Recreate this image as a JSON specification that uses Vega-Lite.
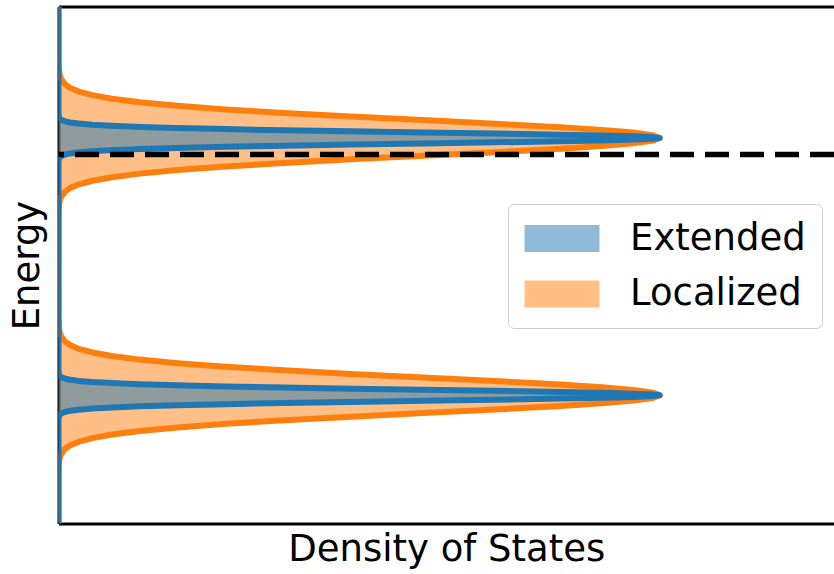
{
  "$schema": "https://vega.github.io/schema/vega-lite/v6.json",
  "autosize": "none",
  "width": 775.5,
  "height": 517,
  "padding": {"left": 58.5, "top": 6.5, "right": 0, "bottom": 50.5},
  "background": "white",
  "config": {
    "font": "DejaVu Sans",
    "view": {"stroke": null},
    "axis": {"grid": false, "ticks": false, "labels": false, "domainColor": "black", "domainWidth": 3, "titleFont": "DejaVu Sans", "titleFontSize": 37, "titleFontWeight": "normal", "titleColor": "black", "zindex": 1}
  },
  "datasets": {
    "dos": [
      {"series": "Localized", "E": -2, "dos": 0},
      {"series": "Localized", "E": -1.629, "dos": 0},
      {"series": "Localized", "E": -1.56, "dos": 0.0003},
      {"series": "Localized", "E": -1.5048, "dos": 0.0015},
      {"series": "Localized", "E": -1.4634, "dos": 0.0043},
      {"series": "Localized", "E": -1.422, "dos": 0.0111},
      {"series": "Localized", "E": -1.3944, "dos": 0.0198},
      {"series": "Localized", "E": -1.3668, "dos": 0.034},
      {"series": "Localized", "E": -1.3392, "dos": 0.0561},
      {"series": "Localized", "E": -1.3116, "dos": 0.0889},
      {"series": "Localized", "E": -1.284, "dos": 0.1353},
      {"series": "Localized", "E": -1.2564, "dos": 0.1979},
      {"series": "Localized", "E": -1.2288, "dos": 0.278},
      {"series": "Localized", "E": -1.2012, "dos": 0.3753},
      {"series": "Localized", "E": -1.1736, "dos": 0.4868},
      {"series": "Localized", "E": -1.146, "dos": 0.6065},
      {"series": "Localized", "E": -1.1184, "dos": 0.7261},
      {"series": "Localized", "E": -1.0908, "dos": 0.8353},
      {"series": "Localized", "E": -1.0701, "dos": 0.9037},
      {"series": "Localized", "E": -1.0494, "dos": 0.956},
      {"series": "Localized", "E": -1.0287, "dos": 0.9888},
      {"series": "Localized", "E": -1.008, "dos": 1},
      {"series": "Localized", "E": -0.9873, "dos": 0.9888},
      {"series": "Localized", "E": -0.9666, "dos": 0.956},
      {"series": "Localized", "E": -0.9459, "dos": 0.9037},
      {"series": "Localized", "E": -0.9252, "dos": 0.8353},
      {"series": "Localized", "E": -0.8976, "dos": 0.7261},
      {"series": "Localized", "E": -0.87, "dos": 0.6065},
      {"series": "Localized", "E": -0.8424, "dos": 0.4868},
      {"series": "Localized", "E": -0.8148, "dos": 0.3753},
      {"series": "Localized", "E": -0.7872, "dos": 0.278},
      {"series": "Localized", "E": -0.7596, "dos": 0.1979},
      {"series": "Localized", "E": -0.732, "dos": 0.1353},
      {"series": "Localized", "E": -0.7044, "dos": 0.0889},
      {"series": "Localized", "E": -0.6768, "dos": 0.0561},
      {"series": "Localized", "E": -0.6492, "dos": 0.034},
      {"series": "Localized", "E": -0.6216, "dos": 0.0198},
      {"series": "Localized", "E": -0.594, "dos": 0.0111},
      {"series": "Localized", "E": -0.5526, "dos": 0.0043},
      {"series": "Localized", "E": -0.5112, "dos": 0.0015},
      {"series": "Localized", "E": -0.456, "dos": 0.0003},
      {"series": "Localized", "E": -0.387, "dos": 0},
      {"series": "Localized", "E": 0.362, "dos": 0},
      {"series": "Localized", "E": 0.431, "dos": 0.0003},
      {"series": "Localized", "E": 0.4862, "dos": 0.0015},
      {"series": "Localized", "E": 0.5276, "dos": 0.0043},
      {"series": "Localized", "E": 0.569, "dos": 0.0111},
      {"series": "Localized", "E": 0.5966, "dos": 0.0198},
      {"series": "Localized", "E": 0.6242, "dos": 0.034},
      {"series": "Localized", "E": 0.6518, "dos": 0.0561},
      {"series": "Localized", "E": 0.6794, "dos": 0.0889},
      {"series": "Localized", "E": 0.707, "dos": 0.1353},
      {"series": "Localized", "E": 0.7346, "dos": 0.1979},
      {"series": "Localized", "E": 0.7622, "dos": 0.278},
      {"series": "Localized", "E": 0.7898, "dos": 0.3753},
      {"series": "Localized", "E": 0.8174, "dos": 0.4868},
      {"series": "Localized", "E": 0.845, "dos": 0.6065},
      {"series": "Localized", "E": 0.8726, "dos": 0.7261},
      {"series": "Localized", "E": 0.9002, "dos": 0.8353},
      {"series": "Localized", "E": 0.9209, "dos": 0.9037},
      {"series": "Localized", "E": 0.9416, "dos": 0.956},
      {"series": "Localized", "E": 0.9623, "dos": 0.9888},
      {"series": "Localized", "E": 0.983, "dos": 1},
      {"series": "Localized", "E": 1.0037, "dos": 0.9888},
      {"series": "Localized", "E": 1.0244, "dos": 0.956},
      {"series": "Localized", "E": 1.0451, "dos": 0.9037},
      {"series": "Localized", "E": 1.0658, "dos": 0.8353},
      {"series": "Localized", "E": 1.0934, "dos": 0.7261},
      {"series": "Localized", "E": 1.121, "dos": 0.6065},
      {"series": "Localized", "E": 1.1486, "dos": 0.4868},
      {"series": "Localized", "E": 1.1762, "dos": 0.3753},
      {"series": "Localized", "E": 1.2038, "dos": 0.278},
      {"series": "Localized", "E": 1.2314, "dos": 0.1979},
      {"series": "Localized", "E": 1.259, "dos": 0.1353},
      {"series": "Localized", "E": 1.2866, "dos": 0.0889},
      {"series": "Localized", "E": 1.3142, "dos": 0.0561},
      {"series": "Localized", "E": 1.3418, "dos": 0.034},
      {"series": "Localized", "E": 1.3694, "dos": 0.0198},
      {"series": "Localized", "E": 1.397, "dos": 0.0111},
      {"series": "Localized", "E": 1.4384, "dos": 0.0043},
      {"series": "Localized", "E": 1.4798, "dos": 0.0015},
      {"series": "Localized", "E": 1.535, "dos": 0.0003},
      {"series": "Localized", "E": 1.604, "dos": 0},
      {"series": "Localized", "E": 2, "dos": 0},
      {"series": "Extended", "E": -2, "dos": 0},
      {"series": "Extended", "E": -1.2006, "dos": 0},
      {"series": "Extended", "E": -1.1792, "dos": 0.0003},
      {"series": "Extended", "E": -1.1621, "dos": 0.0015},
      {"series": "Extended", "E": -1.1492, "dos": 0.0043},
      {"series": "Extended", "E": -1.1364, "dos": 0.0111},
      {"series": "Extended", "E": -1.1278, "dos": 0.0198},
      {"series": "Extended", "E": -1.1193, "dos": 0.034},
      {"series": "Extended", "E": -1.1107, "dos": 0.0561},
      {"series": "Extended", "E": -1.1022, "dos": 0.0889},
      {"series": "Extended", "E": -1.0936, "dos": 0.1353},
      {"series": "Extended", "E": -1.085, "dos": 0.1979},
      {"series": "Extended", "E": -1.0765, "dos": 0.278},
      {"series": "Extended", "E": -1.0679, "dos": 0.3753},
      {"series": "Extended", "E": -1.0594, "dos": 0.4868},
      {"series": "Extended", "E": -1.0508, "dos": 0.6065},
      {"series": "Extended", "E": -1.0422, "dos": 0.7261},
      {"series": "Extended", "E": -1.0337, "dos": 0.8353},
      {"series": "Extended", "E": -1.0273, "dos": 0.9037},
      {"series": "Extended", "E": -1.0208, "dos": 0.956},
      {"series": "Extended", "E": -1.0144, "dos": 0.9888},
      {"series": "Extended", "E": -1.008, "dos": 1},
      {"series": "Extended", "E": -1.0016, "dos": 0.9888},
      {"series": "Extended", "E": -0.9952, "dos": 0.956},
      {"series": "Extended", "E": -0.9887, "dos": 0.9037},
      {"series": "Extended", "E": -0.9823, "dos": 0.8353},
      {"series": "Extended", "E": -0.9738, "dos": 0.7261},
      {"series": "Extended", "E": -0.9652, "dos": 0.6065},
      {"series": "Extended", "E": -0.9566, "dos": 0.4868},
      {"series": "Extended", "E": -0.9481, "dos": 0.3753},
      {"series": "Extended", "E": -0.9395, "dos": 0.278},
      {"series": "Extended", "E": -0.931, "dos": 0.1979},
      {"series": "Extended", "E": -0.9224, "dos": 0.1353},
      {"series": "Extended", "E": -0.9138, "dos": 0.0889},
      {"series": "Extended", "E": -0.9053, "dos": 0.0561},
      {"series": "Extended", "E": -0.8967, "dos": 0.034},
      {"series": "Extended", "E": -0.8882, "dos": 0.0198},
      {"series": "Extended", "E": -0.8796, "dos": 0.0111},
      {"series": "Extended", "E": -0.8668, "dos": 0.0043},
      {"series": "Extended", "E": -0.8539, "dos": 0.0015},
      {"series": "Extended", "E": -0.8368, "dos": 0.0003},
      {"series": "Extended", "E": -0.8154, "dos": 0},
      {"series": "Extended", "E": 0.7904, "dos": 0},
      {"series": "Extended", "E": 0.8118, "dos": 0.0003},
      {"series": "Extended", "E": 0.8289, "dos": 0.0015},
      {"series": "Extended", "E": 0.8418, "dos": 0.0043},
      {"series": "Extended", "E": 0.8546, "dos": 0.0111},
      {"series": "Extended", "E": 0.8632, "dos": 0.0198},
      {"series": "Extended", "E": 0.8717, "dos": 0.034},
      {"series": "Extended", "E": 0.8803, "dos": 0.0561},
      {"series": "Extended", "E": 0.8888, "dos": 0.0889},
      {"series": "Extended", "E": 0.8974, "dos": 0.1353},
      {"series": "Extended", "E": 0.906, "dos": 0.1979},
      {"series": "Extended", "E": 0.9145, "dos": 0.278},
      {"series": "Extended", "E": 0.9231, "dos": 0.3753},
      {"series": "Extended", "E": 0.9316, "dos": 0.4868},
      {"series": "Extended", "E": 0.9402, "dos": 0.6065},
      {"series": "Extended", "E": 0.9488, "dos": 0.7261},
      {"series": "Extended", "E": 0.9573, "dos": 0.8353},
      {"series": "Extended", "E": 0.9637, "dos": 0.9037},
      {"series": "Extended", "E": 0.9702, "dos": 0.956},
      {"series": "Extended", "E": 0.9766, "dos": 0.9888},
      {"series": "Extended", "E": 0.983, "dos": 1},
      {"series": "Extended", "E": 0.9894, "dos": 0.9888},
      {"series": "Extended", "E": 0.9958, "dos": 0.956},
      {"series": "Extended", "E": 1.0023, "dos": 0.9037},
      {"series": "Extended", "E": 1.0087, "dos": 0.8353},
      {"series": "Extended", "E": 1.0172, "dos": 0.7261},
      {"series": "Extended", "E": 1.0258, "dos": 0.6065},
      {"series": "Extended", "E": 1.0344, "dos": 0.4868},
      {"series": "Extended", "E": 1.0429, "dos": 0.3753},
      {"series": "Extended", "E": 1.0515, "dos": 0.278},
      {"series": "Extended", "E": 1.06, "dos": 0.1979},
      {"series": "Extended", "E": 1.0686, "dos": 0.1353},
      {"series": "Extended", "E": 1.0772, "dos": 0.0889},
      {"series": "Extended", "E": 1.0857, "dos": 0.0561},
      {"series": "Extended", "E": 1.0943, "dos": 0.034},
      {"series": "Extended", "E": 1.1028, "dos": 0.0198},
      {"series": "Extended", "E": 1.1114, "dos": 0.0111},
      {"series": "Extended", "E": 1.1242, "dos": 0.0043},
      {"series": "Extended", "E": 1.1371, "dos": 0.0015},
      {"series": "Extended", "E": 1.1542, "dos": 0.0003},
      {"series": "Extended", "E": 1.1756, "dos": 0},
      {"series": "Extended", "E": 2, "dos": 0}
    ],
    "fermi": [{"E": 0.854}]
  },
  "data": {"name": "dos"},
  "resolve": {"axis": {"x": "independent"}},
  "layer": [
    {
      "transform": [{"filter": "datum.series === 'Localized'"}],
      "mark": {"type": "area", "orient": "horizontal", "opacity": 0.5, "clip": true},
      "encoding": {
        "y": {"field": "E", "type": "quantitative", "scale": {"domain": [-2, 2], "nice": false, "zero": false}, "axis": {"title": "Energy", "titlePadding": 12}},
        "x": {"field": "dos", "type": "quantitative", "stack": null, "scale": {"domain": [0, 1.29], "nice": false}, "axis": {"title": "Density of States", "titlePadding": 8}},
        "color": {"field": "series", "type": "nominal", "scale": {"domain": ["Extended", "Localized"], "range": ["#1f77b4", "#ff7f0e"]},
          "legend": {"orient": "none", "legendX": 449.5, "legendY": 197.5, "title": null, "symbolType": "M-1.2,-0.9H3.8V0.9H-1.2Z", "symbolSize": 900, "symbolOpacity": 0.5, "symbolStrokeWidth": 0, "labelFontSize": 37, "labelFont": "DejaVu Sans", "labelColor": "black", "labelOffset": 69, "labelLimit": 0, "padding": 16, "rowPadding": 17.5, "strokeColor": "#cccccc", "fillColor": "white", "cornerRadius": 6}}
      }
    },
    {
      "transform": [{"filter": "datum.series === 'Localized'"}],
      "mark": {"type": "line", "orient": "horizontal", "color": "#ff7f0e", "strokeWidth": 6, "strokeJoin": "round", "clip": true},
      "encoding": {
        "y": {"field": "E", "type": "quantitative"},
        "x": {"field": "dos", "type": "quantitative", "axis": null},
        "order": {"field": "E", "type": "quantitative"}
      }
    },
    {
      "transform": [{"filter": "datum.series === 'Extended'"}],
      "mark": {"type": "area", "orient": "horizontal", "opacity": 0.5, "clip": true},
      "encoding": {
        "y": {"field": "E", "type": "quantitative"},
        "x": {"field": "dos", "type": "quantitative", "stack": null, "axis": null},
        "color": {"field": "series", "type": "nominal"}
      }
    },
    {
      "transform": [{"filter": "datum.series === 'Extended'"}],
      "mark": {"type": "line", "orient": "horizontal", "color": "#1f77b4", "strokeWidth": 6, "strokeJoin": "round", "clip": true},
      "encoding": {
        "y": {"field": "E", "type": "quantitative"},
        "x": {"field": "dos", "type": "quantitative", "title": null, "axis": {"orient": "top", "title": null}},
        "order": {"field": "E", "type": "quantitative"}
      }
    },
    {
      "data": {"name": "fermi"},
      "mark": {"type": "rule", "color": "black", "strokeWidth": 5.5, "strokeDash": [24, 11], "clip": true},
      "encoding": {
        "y": {"field": "E", "type": "quantitative"}
      }
    }
  ]
}
